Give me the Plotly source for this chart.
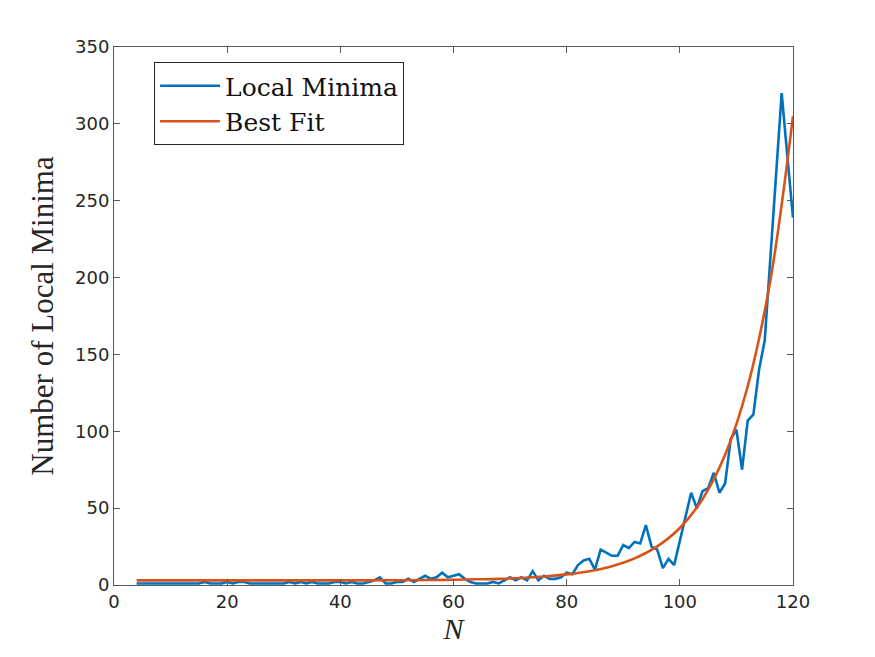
import plotly.graph_objects as go

# Local minima counts for N = 4 .. 120
n_values = list(range(4, 121))
local_minima = [
    1, 1, 1, 1, 1, 1, 1, 1, 1, 1, 1, 1, 2,          # 4-16
    1, 1, 1, 2, 1, 2, 2, 1, 1, 1, 1, 1, 1, 1,       # 17-30
    2, 1, 2, 1, 2, 1, 1, 1, 2, 2,                   # 31-40
    1, 2, 1, 1, 2, 3, 5, 1, 1, 2,                   # 41-50
    2, 4, 2, 4, 6, 4, 5, 8, 5, 6,                   # 51-60
    7, 4, 2, 1, 1, 1, 2, 1, 3, 5,                   # 61-70
    3, 5, 3, 9, 3, 6, 4, 4, 5, 8,                   # 71-80
    7, 13, 16, 17, 10, 23, 21, 19, 19, 26,          # 81-90
    24, 28, 27, 39, 25, 23, 11, 17, 13, 28,         # 91-100
    44, 60, 50, 61, 63, 73, 60, 66, 95, 101,        # 101-110
    75, 107, 111, 140, 159, 213, 266, 320, 279, 239 # 111-120
]

# Best-fit curve
fit_n = [4, 20, 40, 50, 56, 60, 64, 68, 72, 76, 80, 84, 88, 92, 96, 100,
         104, 108, 112, 116, 120]
fit_values = [3.0, 3.0, 3.0, 3.1, 3.3, 3.4, 3.7, 4.0, 4.6, 5.5, 6.9, 9.0,
              12.2, 17.3, 25.1, 37.1, 55.8, 84.7, 129.3, 198.3, 305.0]

x_ticks = [0, 20, 40, 60, 80, 100, 120]
y_ticks = [0, 50, 100, 150, 200, 250, 300, 350]

fig = go.Figure()
fig.add_trace(go.Scatter(x=n_values, y=local_minima, mode="lines",
                         name="Local Minima",
                         line=dict(color="#0072BD", width=2.6)))
fig.add_trace(go.Scatter(x=fit_n, y=fit_values, mode="lines",
                         name="Best Fit", line_shape="spline",
                         line=dict(color="#D95319", width=2.6)))

axis_common = dict(showgrid=False, zeroline=False, showline=True,
                   linecolor="#5a5a5a", linewidth=1, mirror="ticks",
                   ticks="inside", ticklen=6, tickcolor="#5a5a5a",
                   tickfont=dict(family="DejaVu Sans", size=18,
                                 color="#262626"))

serif = "Liberation Serif, Times New Roman"

fig.update_layout(
    width=875, height=657,
    margin=dict(l=114, r=82, t=47, b=72),
    paper_bgcolor="white", plot_bgcolor="white",
    xaxis=dict(range=[0, 120], tickvals=x_ticks,
               title=dict(text="<i>N</i>", standoff=4,
                          font=dict(family=serif, size=30, color="#262626")),
               **axis_common),
    yaxis=dict(range=[0, 350], tickvals=y_ticks,
               title=dict(text="Number of Local Minima", standoff=12,
                          font=dict(family=serif, size=31, color="#262626")),
               **axis_common),
    legend=dict(x=0.059, y=0.972, xanchor="left", yanchor="top",
                bgcolor="white", bordercolor="#262626", borderwidth=1,
                itemwidth=60, tracegroupgap=0,
                font=dict(family="DejaVu Serif", size=25, color="#111111")),
    showlegend=True,
)

fig.write_html("out.html")
